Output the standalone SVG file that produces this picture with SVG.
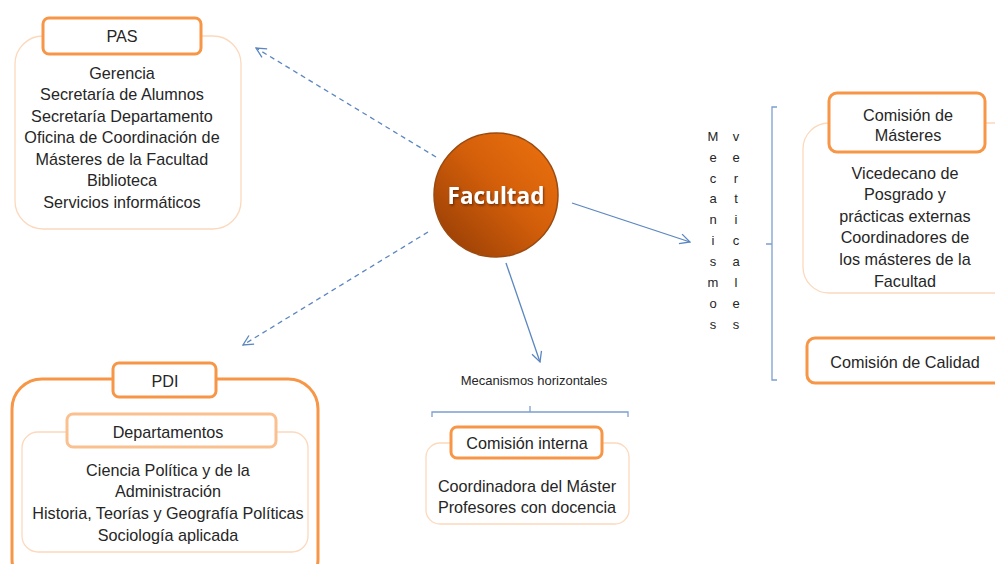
<svg xmlns="http://www.w3.org/2000/svg" width="995" height="564" viewBox="0 0 995 564">
<defs>
<style>
.t{font-family:"Liberation Sans",Arial,sans-serif;font-size:16.2px;fill:#262626;text-anchor:middle;dominant-baseline:central}
.s{font-family:"Liberation Sans",Arial,sans-serif;font-size:13px;fill:#262626;text-anchor:middle;dominant-baseline:central}
.outer{fill:#fff;stroke:#fcd9bd;stroke-width:1.3}
.title{fill:#fff;stroke:#f79646;stroke-width:3}
.strong{fill:#fff;stroke:#f79646;stroke-width:3}
.conn{stroke:#5b86c0;stroke-width:1.3;fill:none}
.dash{stroke-dasharray:5 4}
.br{stroke:#7c9fcf;stroke-width:1.3;fill:none}
</style>
<marker id="ah" viewBox="0 0 12 12" refX="11" refY="6" markerWidth="12" markerHeight="12" markerUnits="userSpaceOnUse" orient="auto">
<path d="M1,1 L11,6 L1,11" fill="none" stroke="#5b86c0" stroke-width="1.3"/>
</marker>
<linearGradient id="fg" x1="0" y1="1" x2="1" y2="0">
<stop offset="0" stop-color="#8f3a05"/>
<stop offset="0.55" stop-color="#d45f0a"/>
<stop offset="1" stop-color="#ee7410"/>
</linearGradient>
<filter id="sh" x="-20%" y="-30%" width="140%" height="160%">
<feDropShadow dx="1" dy="1.5" stdDeviation="0.8" flood-color="#4a1e00" flood-opacity="0.7"/>
</filter>
</defs>

<g id="connectors">
<line class="conn dash" x1="436" y1="157" x2="256" y2="48" marker-end="url(#ah)"/>
<line class="conn dash" x1="428" y1="232" x2="243" y2="345" marker-end="url(#ah)"/>
<line class="conn" x1="572" y1="203" x2="690" y2="242" marker-end="url(#ah)"/>
<line class="conn" x1="506" y1="263" x2="540" y2="362" marker-end="url(#ah)"/>
<path class="br" d="M777,107 L772,107 L772,380 L777,380 M772,244 L766,244"/>
<path class="br" d="M432,417 L432,412 L628,412 L628,417 M530,412 L530,406"/>
</g>

<g id="facultad">
<circle cx="496" cy="195" r="62" fill="url(#fg)" stroke="#9a4a10" stroke-width="1.5"/>
<text x="496" y="195" font-family="'Open Sans','Liberation Sans',sans-serif" font-size="22.5" font-weight="bold" fill="#ffffff" text-anchor="middle" dominant-baseline="central" filter="url(#sh)">Facultad</text>
</g>

<g id="pas">
<rect class="outer" x="15" y="36" width="226" height="193" rx="28"/>
<rect class="title" x="43" y="18" width="158" height="36" rx="6"/>
<text class="t" x="122" y="36">PAS</text>
<text class="t" x="122" y="73">Gerencia</text>
<text class="t" x="122" y="94">Secretaría de Alumnos</text>
<text class="t" x="122" y="116">Secretaría Departamento</text>
<text class="t" x="122" y="137">Oficina de Coordinación de</text>
<text class="t" x="122" y="159">Másteres de la Facultad</text>
<text class="t" x="122" y="180">Biblioteca</text>
<text class="t" x="122" y="202">Servicios informáticos</text>
</g>

<g id="mec-verticales">
<text class="s" x="713" y="136">M</text>
<text class="s" x="713" y="157">e</text>
<text class="s" x="713" y="178">c</text>
<text class="s" x="713" y="198">a</text>
<text class="s" x="713" y="219">n</text>
<text class="s" x="713" y="240">i</text>
<text class="s" x="713" y="261">s</text>
<text class="s" x="713" y="282">m</text>
<text class="s" x="713" y="303">o</text>
<text class="s" x="713" y="324">s</text>
<text class="s" x="736" y="136">v</text>
<text class="s" x="736" y="157">e</text>
<text class="s" x="736" y="178">r</text>
<text class="s" x="736" y="198">t</text>
<text class="s" x="736" y="219">i</text>
<text class="s" x="736" y="240">c</text>
<text class="s" x="736" y="261">a</text>
<text class="s" x="736" y="282">l</text>
<text class="s" x="736" y="303">e</text>
<text class="s" x="736" y="324">s</text>
</g>

<g id="comision-masteres">
<rect class="outer" x="803" y="123" width="220" height="170" rx="26"/>
<rect class="title" x="829" y="93" width="156" height="59" rx="8"/>
<text class="t" x="908" y="115">Comisión de</text>
<text class="t" x="908" y="135">Másteres</text>
<text class="t" x="905" y="173">Vicedecano de</text>
<text class="t" x="905" y="194">Posgrado y</text>
<text class="t" x="905" y="216">prácticas externas</text>
<text class="t" x="905" y="237">Coordinadores de</text>
<text class="t" x="905" y="259">los másteres de la</text>
<text class="t" x="905" y="281">Facultad</text>
</g>

<g id="comision-calidad">
<rect class="strong" x="807" y="338" width="210" height="45" rx="8"/>
<text class="t" x="905" y="362">Comisión de Calidad</text>
</g>

<g id="mec-horizontales">
<text class="s" x="534" y="380">Mecanismos horizontales</text>
</g>

<g id="comision-interna">
<rect class="outer" x="426" y="443" width="203" height="81" rx="14"/>
<rect class="title" x="451" y="427" width="151" height="31" rx="6"/>
<text class="t" x="527" y="443">Comisión interna</text>
<text class="t" x="527" y="486">Coordinadora del Máster</text>
<text class="t" x="527" y="507">Profesores con docencia</text>
</g>

<g id="pdi">
<rect class="strong" x="12" y="379" width="306" height="210" rx="30"/>
<rect class="title" x="113" y="363" width="103" height="34" rx="6"/>
<text class="t" x="165" y="381">PDI</text>
</g>

<g id="departamentos">
<rect class="outer" x="22" y="432" width="286" height="120" rx="16"/>
<rect x="67" y="414" width="209" height="33" rx="6" fill="#fff" stroke="#fac08f" stroke-width="3"/>
<text class="t" x="168" y="432">Departamentos</text>
<text class="t" x="168" y="470">Ciencia Política y de la</text>
<text class="t" x="168" y="491">Administración</text>
<text class="t" x="168" y="513">Historia, Teorías y Geografía Políticas</text>
<text class="t" x="168" y="535">Sociología aplicada</text>
</g>
</svg>
